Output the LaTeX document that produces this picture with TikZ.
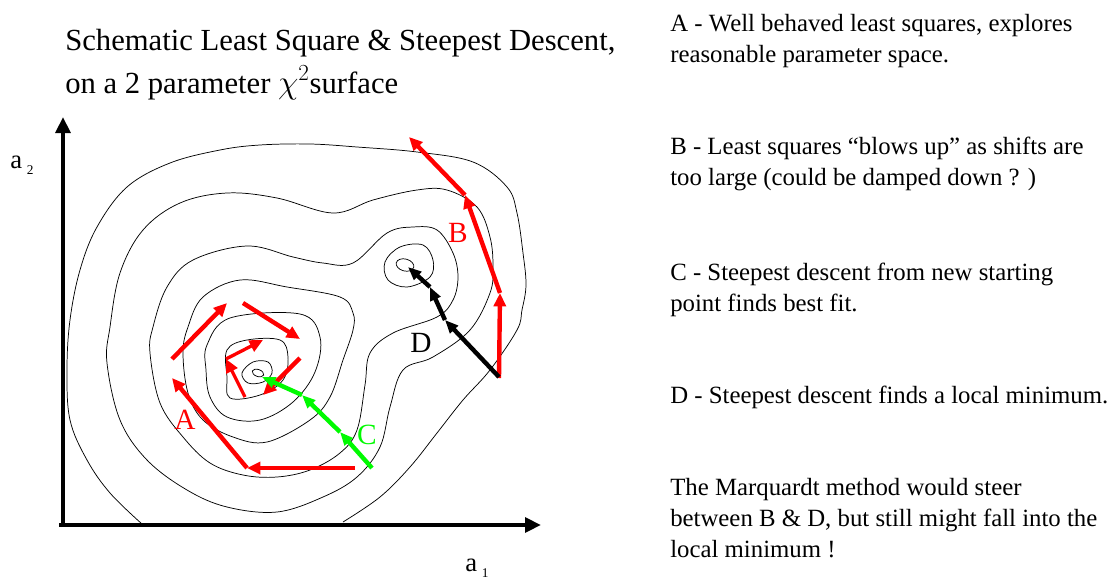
\documentclass[tikz,border=0pt]{standalone}
\usepackage{fontspec}
\setmainfont{Liberation Serif}
\usetikzlibrary{arrows.meta,positioning}
\definecolor{lsqred}{RGB}{255,0,0}
\definecolor{sdgreen}{RGB}{0,250,0}
\newcommand{\descfont}{\fontsize{18.6}{22.9}\selectfont}
\newcommand{\titlefont}{\fontsize{23}{32}\selectfont}
\newcommand{\subsc}[1]{\kern3.5pt\raisebox{-5pt}{\fontsize{10}{10}\selectfont #1}}

\begin{document}
\begin{tikzpicture}[x=0.75pt,y=-0.75pt,every node/.style={inner sep=0pt},
  contour/.style={line width=0.55pt},
  axis/.style={line width=3pt,-{Triangle[length=12pt,width=11pt]}},
  lsq/.style={lsqred,line width=3.3pt,-{Triangle[length=10pt,width=9pt]}},
  sdbest/.style={sdgreen,line width=3.3pt,-{Triangle[length=10pt,width=8pt]}},
  sdlocal/.style={black,line width=3.3pt,-{Triangle[length=10pt,width=8pt]}},
  pathlbl/.style={font=\fontsize{22}{22}\selectfont}]
\useasboundingbox (0,0) rectangle (1115,579);

% chi^2 contours
\draw[contour] plot[smooth,tension=0.6] coordinates {(142,524) (110,493) (87,460) (70,420) (67,370) (70,320) (80,270) (97,227) (127,187) (170,163) (220,150) (260,145) (310,144) (357,147) (417,152) (473,162) (507,187) (517,213) (523,253) (526,285) (522,310) (517,330) (490,370) (463,400) (437,433) (410,467) (380,497) (343,522)};
\draw[contour] plot[smooth cycle,tension=0.6] coordinates {(110,327) (120,273) (143,230) (180,203) (227,193) (277,198) (333,213) (373,200) (417,190) (447,190) (477,207) (490,237) (493,267) (490,293) (470,330) (433,357) (403,370) (390,407) (380,447) (357,477) (323,497) (277,512) (227,507) (187,490) (147,460) (120,420) (107,363)};
\draw[contour] plot[smooth cycle,tension=0.6] coordinates {(153,327) (167,287) (193,260) (247,246) (293,257) (323,263) (353,263) (387,233) (413,227) (437,230) (453,253) (458,277) (453,300) (437,317) (393,333) (370,353) (365,385) (357,430) (340,453) (310,470) (277,477) (243,475) (210,463) (183,437) (160,403) (150,353)};
\draw[contour] plot[smooth cycle,tension=0.6] coordinates {(188,327) (203,297) (240,280) (287,287) (340,297) (353,313) (353,330) (343,360) (330,397) (310,420) (267,442) (233,437) (203,420) (188,393) (183,353)};
\draw[contour] plot[smooth cycle,tension=0.6] coordinates {(207,345) (230,318) (300,314) (320,337) (315,372) (293,402) (260,420) (227,417) (210,397) (206,370)};
\draw[contour] plot[smooth cycle,tension=0.6] coordinates {(227,350) (247,340) (280,340) (288,357) (283,380) (260,395) (230,398) (227,377)};
\draw[contour] plot[smooth cycle,tension=0.6] coordinates {(242,373) (253,362) (268,362) (272,373) (263,382) (248,383)};
\draw[contour] (258,373) ellipse[x radius=6,y radius=3.5,rotate=-20];
\draw[contour] plot[smooth cycle,tension=0.6] coordinates {(385,262) (400,247) (423,245) (433,260) (430,277) (407,287) (388,280)};
\draw[contour] (405,265) ellipse[x radius=9,y radius=6,rotate=-15];

% axes
\coordinate (origin) at (63,525);
\coordinate (ytop) at (63,117);
\coordinate (xend) at (541,525);
\draw[axis] ([yshift=-1.5pt]origin) -- (ytop);
\draw[axis] ([xshift=-3pt]origin) -- (xend);
\node[anchor=base west,font=\fontsize{20}{20}\selectfont] (lbltwo) at (10,168) {a\subsc{2}};
\node[anchor=base west,font=\fontsize{20}{20}\selectfont] (lblone) at (465,571) {a\subsc{1}};

% A: well behaved least squares
\coordinate (a0) at (355,468);
\coordinate (a1) at (247,468);
\coordinate (a2) at (172,378);
\coordinate (a3) at (172,359);
\coordinate (a4) at (227,303);
\coordinate (a5) at (243,303);
\coordinate (a6) at (300,339);
\coordinate (a7) at (300,358);
\coordinate (a8) at (263,395);
\coordinate (a9) at (245,397);
\coordinate (a10) at (226,359);
\coordinate (a11) at (263,340);
\draw[lsq] (a0) -- (a1);
\draw[lsq] (a1) -- (a2);
\draw[lsq] (a3) -- (a4);
\draw[lsq] (a5) -- (a6);
\draw[lsq] (a7) -- (a8);
\draw[lsq,line width=2.5pt] (a9) -- (a10);
\draw[lsq,line width=2.5pt] (a10) -- (a11);

% B: least squares blows up
\coordinate (b0) at (499,378);
\coordinate (b1) at (500,293);
\coordinate (b2) at (465,195);
\coordinate (b3) at (409,137);
\draw[lsq] (b0) -- (b1);
\draw[lsq] (b1) -- (b2);
\draw[lsq] (b2) -- (b3);

% C: steepest descent to best fit
\coordinate (c0) at (372,468);
\coordinate (c1) at (340,432);
\coordinate (c2) at (302,395);
\coordinate (c3) at (262,377);
\draw[sdbest] (c0) -- (c1);
\draw[sdbest] (c1) -- (c2);
\draw[sdbest] (c2) -- (c3);

% D: steepest descent to local minimum
\coordinate (d0) at (499,377);
\coordinate (d1) at (445,320);
\coordinate (d2) at (430,287);
\coordinate (d3) at (408,267);
\draw[sdlocal] (d0) -- (d1);
\draw[sdlocal] (d1) -- (d2);
\draw[sdlocal] (d2) -- (d3);

\node[pathlbl,lsqred] (lblA) at (185,420) {A};
\node[pathlbl,lsqred] (lblB) at (458,233) {B};
\node[pathlbl,sdgreen] (lblC) at (367,435) {C};
\node[pathlbl] (lblD) at (421,343) {D};

% title and notes (base = last line)
\node[anchor=base west,align=left,font=\titlefont] (title) at (65,93)
  {Schematic Least Square \& Steepest Descent,\\on a 2 parameter $\chi^{2}$surface};
\node[anchor=base west,align=left,font=\descfont] (noteA) at (670,62)
  {A - Well behaved least squares, explores\\reasonable parameter space.};
\node[anchor=base west,align=left,font=\descfont] (noteB) at (670,185)
  {B - Least squares “blows up” as shifts are\\too large (could be damped down ? )};
\node[anchor=base west,align=left,font=\descfont] (noteC) at (670,311)
  {C - Steepest descent from new starting\\point finds best fit.};
\node[anchor=base west,align=left,font=\descfont] (noteD) at (670,403)
  {D - Steepest descent finds a local minimum.};
\node[anchor=base west,align=left,font=\descfont] (noteM) at (670,557)
  {The Marquardt method would steer\\between B \& D, but still might fall into the\\local minimum !};
\end{tikzpicture}
\end{document}
